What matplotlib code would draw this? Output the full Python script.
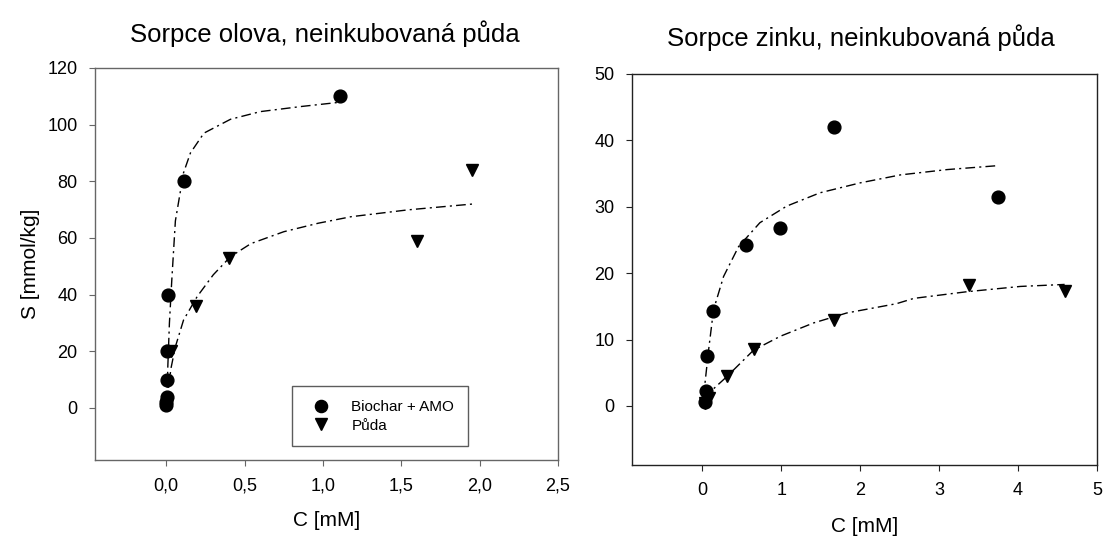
import matplotlib
matplotlib.use("Agg")
import matplotlib.pyplot as plt

plt.rcParams['font.family'] = ['Liberation Sans', 'DejaVu Sans']

# Lead (olovo) sorption
pb_bio_c = [0.0, 0.0, 0.002, 0.004, 0.006, 0.008, 0.115, 1.11]
pb_bio_s = [1.0, 2.0, 4.0, 10.0, 20.0, 40.0, 80.0, 110.0]
pb_soil_c = [0.004, 0.03, 0.19, 0.40, 1.60, 1.95]
pb_soil_s = [1.5, 20.0, 36.0, 53.0, 59.0, 84.0]

# fitted isotherms
pb_bio_fit_c = [0.0, 0.004, 0.01, 0.02, 0.035, 0.058, 0.11, 0.154, 0.24, 0.41, 0.60, 0.86, 1.09]
pb_bio_fit_s = [0.0, 3.0, 15.0, 30.0, 45.0, 66.0, 83.0, 90.0, 97.0, 101.9, 104.6, 106.4, 107.8]
pb_soil_fit_c = [0.0, 0.004, 0.03, 0.058, 0.11, 0.197, 0.30, 0.41, 0.54, 0.75, 0.97, 1.18, 1.54, 1.96]
pb_soil_fit_s = [0.0, 2.8, 14.0, 21.6, 31.0, 39.3, 47.0, 53.4, 58.0, 62.2, 65.2, 67.5, 69.9, 72.0]

# Zinc (zinek) sorption
zn_bio_c = [0.03, 0.05, 0.06, 0.14, 0.56, 0.98, 1.67, 3.75]
zn_bio_s = [0.6, 2.2, 7.5, 14.3, 24.2, 26.8, 42.0, 31.5]
zn_soil_c = [0.03, 0.09, 0.31, 0.65, 1.67, 3.38, 4.60]
zn_soil_s = [0.5, 1.2, 4.5, 8.5, 13.0, 18.2, 17.3]

zn_bio_fit_c = [0.016, 0.08, 0.143, 0.27, 0.46, 0.73, 1.07, 1.49, 2.0, 2.51, 3.10, 3.75]
zn_bio_fit_s = [1.4, 8.4, 14.5, 19.5, 24.0, 27.6, 30.1, 32.1, 33.6, 34.8, 35.6, 36.2]
zn_soil_fit_c = [0.016, 0.31, 0.65, 0.99, 1.41, 1.83, 2.46, 2.68, 3.35, 4.03, 4.59]
zn_soil_fit_s = [1.2, 4.4, 8.4, 10.5, 12.5, 14.0, 15.4, 16.2, 17.2, 18.0, 18.3]

W, H = 1105, 536
fig = plt.figure(figsize=(W / 100, H / 100), dpi=100)

fit_ls = (0, (7, 3, 1.5, 3))
mk = dict(color='black', linestyle='none', markersize=9.2, zorder=3)


def style(ax, edge):
    for sp in ax.spines.values():
        sp.set_color(edge)
        sp.set_linewidth(1.0)
    ax.tick_params(direction='out', length=4.5, width=0.8, color=edge,
                   labelsize=13, pad=8, top=False, right=False)


# left panel: lead
ax1 = fig.add_axes([95 / W, 1 - 460 / H, 463 / W, 392 / H])
ax1.plot(pb_bio_fit_c, pb_bio_fit_s, color='black', lw=1.0, linestyle=fit_ls)
ax1.plot(pb_soil_fit_c, pb_soil_fit_s, color='black', lw=1.0, linestyle=fit_ls)
ax1.plot(pb_bio_c, pb_bio_s, marker='o', label='Biochar + AMO', **mk)
ax1.plot(pb_soil_c, pb_soil_s, marker='v', label='Půda', **mk)
ax1.set_xlim(-0.455, 2.5)
ax1.set_ylim(-18.4, 120)
ax1.set_xticks([0, 0.5, 1.0, 1.5, 2.0, 2.5])
ax1.set_xticklabels(['0,0', '0,5', '1,0', '1,5', '2,0', '2,5'])
ax1.set_yticks(range(0, 121, 20))
style(ax1, '#666666')
ax1.set_xlabel('C [mM]', fontsize=15, va='center')
ax1.xaxis.set_label_coords(0.5, -(521 - 460) / 392)
ax1.set_ylabel('S [mmol/kg]', fontsize=15, va='center')
ax1.yaxis.set_label_coords(-(95 - 30) / 463, 0.5)
leg = ax1.legend(loc='lower left', bbox_to_anchor=(0.425, 0.035), frameon=True,
                 fancybox=False, fontsize=11, handletextpad=1.0, borderpad=0.9,
                 labelspacing=0.3, borderaxespad=0, markerscale=0.95)
leg.get_frame().set_edgecolor('#333333')
leg.get_frame().set_linewidth(1.0)

# right panel: zinc
ax2 = fig.add_axes([632 / W, 1 - 465 / H, 465 / W, 391 / H])
ax2.plot(zn_bio_fit_c, zn_bio_fit_s, color='black', lw=1.0, linestyle=fit_ls)
ax2.plot(zn_soil_fit_c, zn_soil_fit_s, color='black', lw=1.0, linestyle=fit_ls)
ax2.plot(zn_bio_c, zn_bio_s, marker='o', **mk)
ax2.plot(zn_soil_c, zn_soil_s, marker='v', **mk)
ax2.set_xlim(-0.89, 5)
ax2.set_ylim(-8.9, 50)
ax2.set_xticks(range(0, 6))
ax2.set_yticks(range(0, 51, 10))
style(ax2, '#222222')
ax2.set_xlabel('C [mM]', fontsize=15, va='center')
ax2.xaxis.set_label_coords(0.5, -(527 - 465) / 391)

fig.text(325 / W, 1 - 34 / H, 'Sorpce olova, neinkubovaná půda',
         ha='center', va='center', fontsize=18.5)
fig.text(861 / W, 1 - 38 / H, 'Sorpce zinku, neinkubovaná půda',
         ha='center', va='center', fontsize=18.5)

fig.savefig('out.png', dpi=100)
